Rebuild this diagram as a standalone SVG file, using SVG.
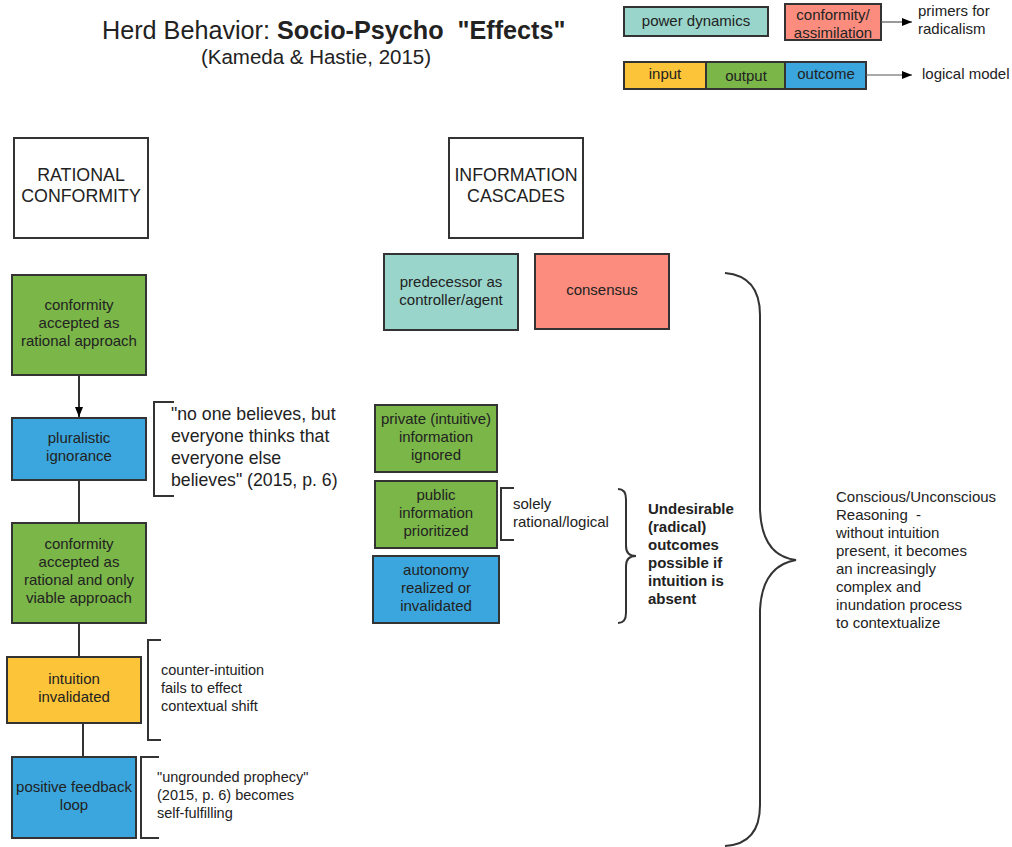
<svg xmlns="http://www.w3.org/2000/svg" width="1012" height="847" viewBox="0 0 1012 847">
<defs>
<marker id="ah" markerWidth="10" markerHeight="8" refX="10" refY="4" orient="auto" markerUnits="userSpaceOnUse">
<path d="M0,0 L10,4 L0,8 Z" fill="#000"/>
</marker>
<style>
text{font-family:"Liberation Sans",Arial,sans-serif;fill:#222;}
.box{stroke:#333;stroke-width:2;}
.w{fill:#fff;}
.g{fill:#7ab648;}
.b{fill:#3aa6dd;}
.y{fill:#fcc438;}
.t{fill:#99d5ca;}
.r{fill:#fc8d7e;}
.c{text-anchor:middle;font-size:15px;}
.n{font-size:15px;}
.s{font-size:14.5px;}
.ln{stroke:#333;stroke-width:2;fill:none;}
</style>
</defs>
<rect width="1012" height="847" fill="#fff"/>

<g id="title">
<text x="102" y="39" font-size="25.2" xml:space="preserve">Herd Behavior: <tspan font-weight="bold">Socio-Psycho  "Effects"</tspan></text>
<text x="316" y="64" font-size="20.5" text-anchor="middle">(Kameda &amp; Hastie, 2015)</text>
</g>

<g id="legend">
<rect class="box t" x="624" y="7" width="144" height="29"/>
<text class="c" x="696" y="26">power dynamics</text>
<rect class="box r" x="785" y="4" width="96" height="36"/>
<text class="c" x="833" y="20">conformity/</text>
<text class="c" x="833" y="38">assimilation</text>
<text class="n" x="918" y="16">primers for</text>
<text class="n" x="918" y="34">radicalism</text>
<rect class="box y" x="624" y="62" width="82" height="27"/>
<rect class="box g" x="706" y="62" width="79" height="27"/>
<rect class="box b" x="785" y="62" width="81" height="27"/>
<text class="c" x="665" y="79">input</text>
<text class="c" x="746" y="81">output</text>
<text class="c" x="826" y="79">outcome</text>
<text class="n" x="922" y="79">logical model</text>
</g>

<g id="rational-conformity">
<rect class="box w" x="14" y="138" width="134" height="100"/>
<text x="81" y="181" font-size="17.8" text-anchor="middle">RATIONAL</text>
<text x="81" y="202" font-size="17.8" text-anchor="middle">CONFORMITY</text>
</g>
<g id="information-cascades">
<rect class="box w" x="449" y="138" width="134" height="100"/>
<text x="516" y="181" font-size="17.8" text-anchor="middle">INFORMATION</text>
<text x="516" y="202" font-size="17.8" text-anchor="middle">CASCADES</text>
</g>

<g id="connectors">
<line class="ln" x1="79" y1="375" x2="79" y2="417" marker-end="url(#ah)"/>
<line class="ln" x1="79" y1="480" x2="79" y2="523"/>
<line class="ln" x1="79" y1="623" x2="79" y2="657"/>
<line class="ln" x1="83" y1="723" x2="83" y2="757"/>
<line x1="881" y1="22" x2="912" y2="22" stroke="#555" stroke-width="1.2" marker-end="url(#ah)"/>
<line x1="866" y1="75" x2="912" y2="75" stroke="#555" stroke-width="1.2" marker-end="url(#ah)"/>
</g>

<g id="n-conformity-rational">
<rect class="box g" x="12" y="275" width="134" height="100"/>
<text class="c" x="79" y="310">conformity</text>
<text class="c" x="79" y="328">accepted as</text>
<text class="c" x="79" y="346">rational approach</text>
</g>
<g id="n-pluralistic">
<rect class="box b" x="12" y="418" width="134" height="62"/>
<text class="c" x="79" y="443">pluralistic</text>
<text class="c" x="79" y="461">ignorance</text>
</g>
<g id="n-conformity-viable">
<rect class="box g" x="12" y="523" width="134" height="100"/>
<text class="c" x="79" y="549">conformity</text>
<text class="c" x="79" y="567">accepted as</text>
<text class="c" x="79" y="585">rational and only</text>
<text class="c" x="79" y="603">viable approach</text>
</g>
<g id="n-intuition-invalidated">
<rect class="box y" x="7" y="657" width="134" height="66"/>
<text class="c" x="74" y="684">intuition</text>
<text class="c" x="74" y="702">invalidated</text>
</g>
<g id="n-feedback">
<rect class="box b" x="12" y="757" width="124" height="81"/>
<text class="c" x="74" y="792">positive feedback</text>
<text class="c" x="74" y="810">loop</text>
</g>

<g id="note-pluralistic">
<path class="ln" d="M174,402 H154 V496 H174" stroke-width="1.5"/>
<text x="171" y="420" font-size="17.7">"no one believes, but</text>
<text x="171" y="442" font-size="17.7">everyone thinks that</text>
<text x="171" y="464" font-size="17.7">everyone else</text>
<text x="171" y="486" font-size="17.7">believes" (2015, p. 6)</text>
</g>
<g id="note-counter">
<path class="ln" d="M161,640 H148 V740 H161" stroke-width="1.5"/>
<text class="s" x="161" y="675">counter-intuition</text>
<text class="s" x="161" y="693">fails to effect</text>
<text class="s" x="161" y="711">contextual shift</text>
</g>
<g id="note-prophecy">
<path class="ln" d="M159,757 H141 V838 H159" stroke-width="1.5"/>
<text class="s" x="157" y="782">"ungrounded prophecy"</text>
<text class="s" x="157" y="800">(2015, p. 6) becomes</text>
<text class="s" x="157" y="818">self-fulfilling</text>
</g>

<g id="n-predecessor">
<rect class="box t" x="384" y="254" width="134" height="76"/>
<text class="c" x="451" y="287">predecessor as</text>
<text class="c" x="451" y="305">controller/agent</text>
</g>
<g id="n-consensus">
<rect class="box r" x="535" y="254" width="134" height="75"/>
<text class="c" x="602" y="295">consensus</text>
</g>
<g id="n-private">
<rect class="box g" x="375" y="405" width="122" height="67"/>
<text class="c" x="436" y="424">private (intuitive)</text>
<text class="c" x="436" y="442">information</text>
<text class="c" x="436" y="460">ignored</text>
</g>
<g id="n-public">
<rect class="box g" x="375" y="481" width="122" height="67"/>
<text class="c" x="436" y="500">public</text>
<text class="c" x="436" y="518">information</text>
<text class="c" x="436" y="536">prioritized</text>
</g>
<g id="n-autonomy">
<rect class="box b" x="373" y="556" width="126" height="67"/>
<text class="c" x="436" y="575">autonomy</text>
<text class="c" x="436" y="593">realized or</text>
<text class="c" x="436" y="611">invalidated</text>
</g>

<g id="note-solely">
<path class="ln" d="M514,488 H501 V540 H514" stroke-width="1.5"/>
<text class="n" x="513" y="509">solely</text>
<text class="n" x="513" y="527">rational/logical</text>
</g>
<g id="note-undesirable">
<path class="ln" stroke-width="1.5" d="M618,489 Q626,489 626,499 V546 Q626,556 636,556 Q626,556 626,566 V613 Q626,623 618,623"/>
<text class="n" x="648" y="514" font-weight="bold">Undesirable</text>
<text class="n" x="648" y="532" font-weight="bold">(radical)</text>
<text class="n" x="648" y="550" font-weight="bold">outcomes</text>
<text class="n" x="648" y="568" font-weight="bold">possible if</text>
<text class="n" x="648" y="586" font-weight="bold">intuition is</text>
<text class="n" x="648" y="604" font-weight="bold">absent</text>
</g>
<g id="note-conscious">
<path class="ln" stroke-width="1.5" d="M725,273 Q760,276 760,315 V510 Q762,556 796,560 Q762,566 760,610 V805 Q760,844 725,846"/>
<text class="n" x="836" y="502">Conscious/Unconscious</text>
<text class="n" x="836" y="520" xml:space="preserve">Reasoning  -</text>
<text class="n" x="836" y="538">without intuition</text>
<text class="n" x="836" y="556">present, it becomes</text>
<text class="n" x="836" y="574">an increasingly</text>
<text class="n" x="836" y="592">complex and</text>
<text class="n" x="836" y="610">inundation process</text>
<text class="n" x="836" y="628">to contextualize</text>
</g>
</svg>
